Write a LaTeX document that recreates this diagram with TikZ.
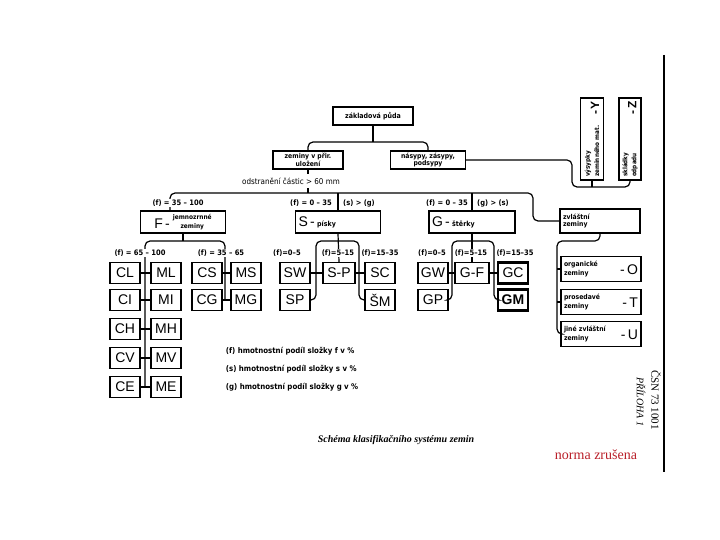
\documentclass[tikz,border=0pt]{standalone}
\usepackage{fontspec}
\setmainfont{Liberation Serif}
\setsansfont{Liberation Sans}
\newfontfamily\lab{DejaVu Sans Condensed}
\usepackage{xcolor}
\usepackage{tikz}
\usetikzlibrary{positioning}
\definecolor{normred}{RGB}{185,30,40}
\newcommand{\fs}[1]{\fontsize{#1}{#1}\selectfont}

\begin{document}
\begin{tikzpicture}[x=1pt,y=-1pt,line width=1.2pt,
  cls/.style={draw,line width=1.4pt,minimum width=30,minimum height=21,inner sep=0pt,font=\sffamily\fs{14}},
  grp/.style={draw,line width=1.4pt,minimum height=22,inner sep=2pt,font=\lab\bfseries\fs{7}},
  lbl/.style={fill=white,inner sep=1pt,font=\lab\bfseries\fs{7.5}},
  wire/.style={line width=1.2pt,rounded corners=5pt}]
  \useasboundingbox (0,0) rectangle (720,540);
  % top of the tree
  \node[grp,minimum width=80,minimum height=18,line width=1.8pt] (base) at (373,116) {základová půda};
  \node[grp,minimum width=70,minimum height=18,align=center,font=\lab\bfseries\fs{6.8}] (nat) at (308,160) {zeminy v přir.\\uložení};
  \node[grp,minimum width=75,minimum height=18,align=center,font=\lab\bfseries\fs{6.8}] (nas) at (428,160) {násypy, zásypy,\\podsypy};
  \coordinate (j0) at (373,142);
  \draw (base) -- (j0);
  \draw[wire] (nat.north) |- (j0) -| (nas.north);
  \node[grp,rotate=90,minimum width=82,minimum height=23,text width=76pt,align=left,font=\lab\bfseries\fs{6.3}] (yy) at (592,139) {\shortstack[l]{výsypky\\zeminného mat.}\hfill{\sffamily\bfseries\fs{12}-\,Y}};
  \node[grp,rotate=90,minimum width=82,minimum height=22,text width=76pt,align=left,font=\lab\bfseries\fs{6.3}] (zz) at (630,139) {\shortstack[l]{skládky\\odpadu}\hfill{\sffamily\bfseries\fs{12}-\,Z}};
  \coordinate (yz) at (572,187);
  \draw[wire] (nas.east) -| (yz) -| (zz.west);
  \draw (yy.west) -- (yy.west |- yz);
  \node[font=\lab\fs{8}] (cut) at (291,181) {odstranění částic > 60 mm};
  \draw (nat.south) -- (nat.south |- cut.north);
  % main groups
  \coordinate (rail) at (0,193);
  \coordinate (re) at (533,193);
  \node[grp,minimum width=85] (ff) at (183,222) {{\sffamily\mdseries\fs{14}F\,-}\hspace{3pt}{\fs{6.5}\shortstack{jemnozrnné\\zeminy}}};
  \node[grp,minimum width=85,text width=79pt,align=left] (ss) at (338,222) {{\sffamily\mdseries\fs{14}S\,-} písky};
  \node[grp,minimum width=86,text width=80pt,align=left] (gg) at (472,222) {{\sffamily\mdseries\fs{14}G\,-} štěrky};
  \node[grp,minimum width=80,minimum height=24,text width=74pt,align=left,font=\lab\bfseries\fs{6.8}] (zv) at (600,221) {zvláštní\\zeminy};
  \draw (nat.south |- cut.south) -- (nat.south |- rail);
  \draw[wire] ([xshift=-13pt]ff.north) |- (re) |- (zv.west);
  \draw (ss.north) -- (ss.north |- rail);
  \draw (gg.north) -- (gg.north |- rail);
  \node[lbl] (lf) at (178,203) {(f) = 35 – 100};
  \node[lbl] (ls1) at (311,203) {(f) = 0 – 35};
  \node[lbl] (ls2) at (359,203) {(s) > (g)};
  \node[lbl] (lg1) at (447,203) {(f) = 0 – 35};
  \node[lbl] (lg2) at (493,203) {(g) > (s)};
  % fine grained soils
  \foreach \n/\y in {L/273,I/300,H/329,V/358,E/387} {\node[cls] (C\n) at (125,\y) {C\n}; \node[cls] (M\n) at (166,\y) {M\n}; \draw (C\n) -- (M\n);}
  \foreach \n/\y in {S/273,G/300} {\node[cls] (C\n) at (207,\y) {C\n}; \node[cls] (M\n) at (246,\y) {M\n}; \draw (C\n) -- (M\n);}
  \coordinate (fl) at (145,241);
  \coordinate (fr) at (225,241);
  \draw (ff.south) -- (ff.south |- fl);
  \draw[wire] (CE.east -| fl) -- (fl) -- (fr) -- (CG.east -| fr);
  \node[lbl] (lf1) at (140,253) {(f) = 65 – 100};
  \node[lbl] (lf2) at (221,253) {(f) = 35 – 65};
  % sands
  \node[cls] (sw) at (295,273) {SW};
  \node[cls,minimum width=32] (spf) at (339,273) {S-P};
  \node[cls] (sc) at (380,273) {SC};
  \node[cls] (sp) at (295,300) {SP};
  \node[cls] (sm) at (380,300) {ŠM};
  \coordinate (sl) at (316,241);
  \coordinate (sr) at (359,241);
  \draw[wire] (sp.east) -| (sl) -- (sr) |- (sm.west);
  \draw (sw) -- (spf); \draw (spf) -- (sc);
  \draw (ss.south) -- (spf.north);
  \node[lbl] (ls3) at (287,253) {(f)=0–5};
  \node[lbl] (ls4) at (338,253) {(f)=5–15};
  \node[lbl] (ls5) at (380,253) {(f)=15–35};
  % gravels
  \node[cls] (gw) at (433,273) {GW};
  \node[cls,minimum width=34] (gpf) at (472,273) {G-F};
  \node[cls,line width=2.2pt] (gc) at (513,273) {GC};
  \node[cls] (gp) at (433,300) {GP};
  \node[cls,line width=2.2pt,font=\sffamily\bfseries\fs{14}] (gm) at (513,300) {GM};
  \coordinate (gl) at (452,241);
  \coordinate (gr) at (494,241);
  \draw[wire] (gp.east) -| (gl) -- (gr) |- (gm.west);
  \draw (gw) -- (gpf); \draw (gpf) -- (gc);
  \draw (gg.south) -- (gpf.north);
  \node[lbl] (lg3) at (432,253) {(f)=0–5};
  \node[lbl] (lg4) at (471,253) {(f)=5–15};
  \node[lbl] (lg5) at (515,253) {(f)=15–35};
  % special soils
  \foreach \k/\y/\t/\c in {zo/269/organické/O,zp/302/prosedavé/T,zu/334/jiné zvláštní/U}
    \node[grp,minimum width=80,minimum height=25,text width=74pt,align=left,font=\lab\bfseries\fs{6.8}] (\k) at (601,\y) {\shortstack[l]{\t\\zeminy}\hfill\raisebox{1pt}{\sffamily\mdseries\fs{14}-\,\c}};
  \coordinate (zt) at (557,241);
  \draw[wire] (zv.south) |- (zt) |- (zu.west);
  \draw (zo.west) -- (zo.west -| zt);
  \draw (zp.west) -- (zp.west -| zt);
  % legend and captions
  \node[anchor=west,font=\lab\bfseries\fs{7.8}] (leg1) at (222,351) {(f) hmotnostní podíl složky f v \%};
  \node[anchor=west,font=\lab\bfseries\fs{7.8}] (leg2) at (222,369) {(s) hmotnostní podíl složky s v \%};
  \node[anchor=west,font=\lab\bfseries\fs{7.8}] (leg3) at (222,387) {(g) hmotnostní podíl složky g v \%};
  \node[font=\rmfamily\itshape\bfseries\fs{10}] (cap) at (396,440) {Schéma klasifikačního systému zemin};
  \node[font=\rmfamily\fs{14},text=normred] (nz) at (596,455) {norma zrušena};
  \node[rotate=-90,font=\rmfamily\fs{11}] (csn) at (656,400) {ČSN 73 1001};
  \node[rotate=-90,font=\rmfamily\itshape\fs{10}] (pril) at (641,402) {PŘÍLOHA 1};
  \draw[line width=1.2pt] (664,55) -- (664,472);
\end{tikzpicture}
\end{document}
